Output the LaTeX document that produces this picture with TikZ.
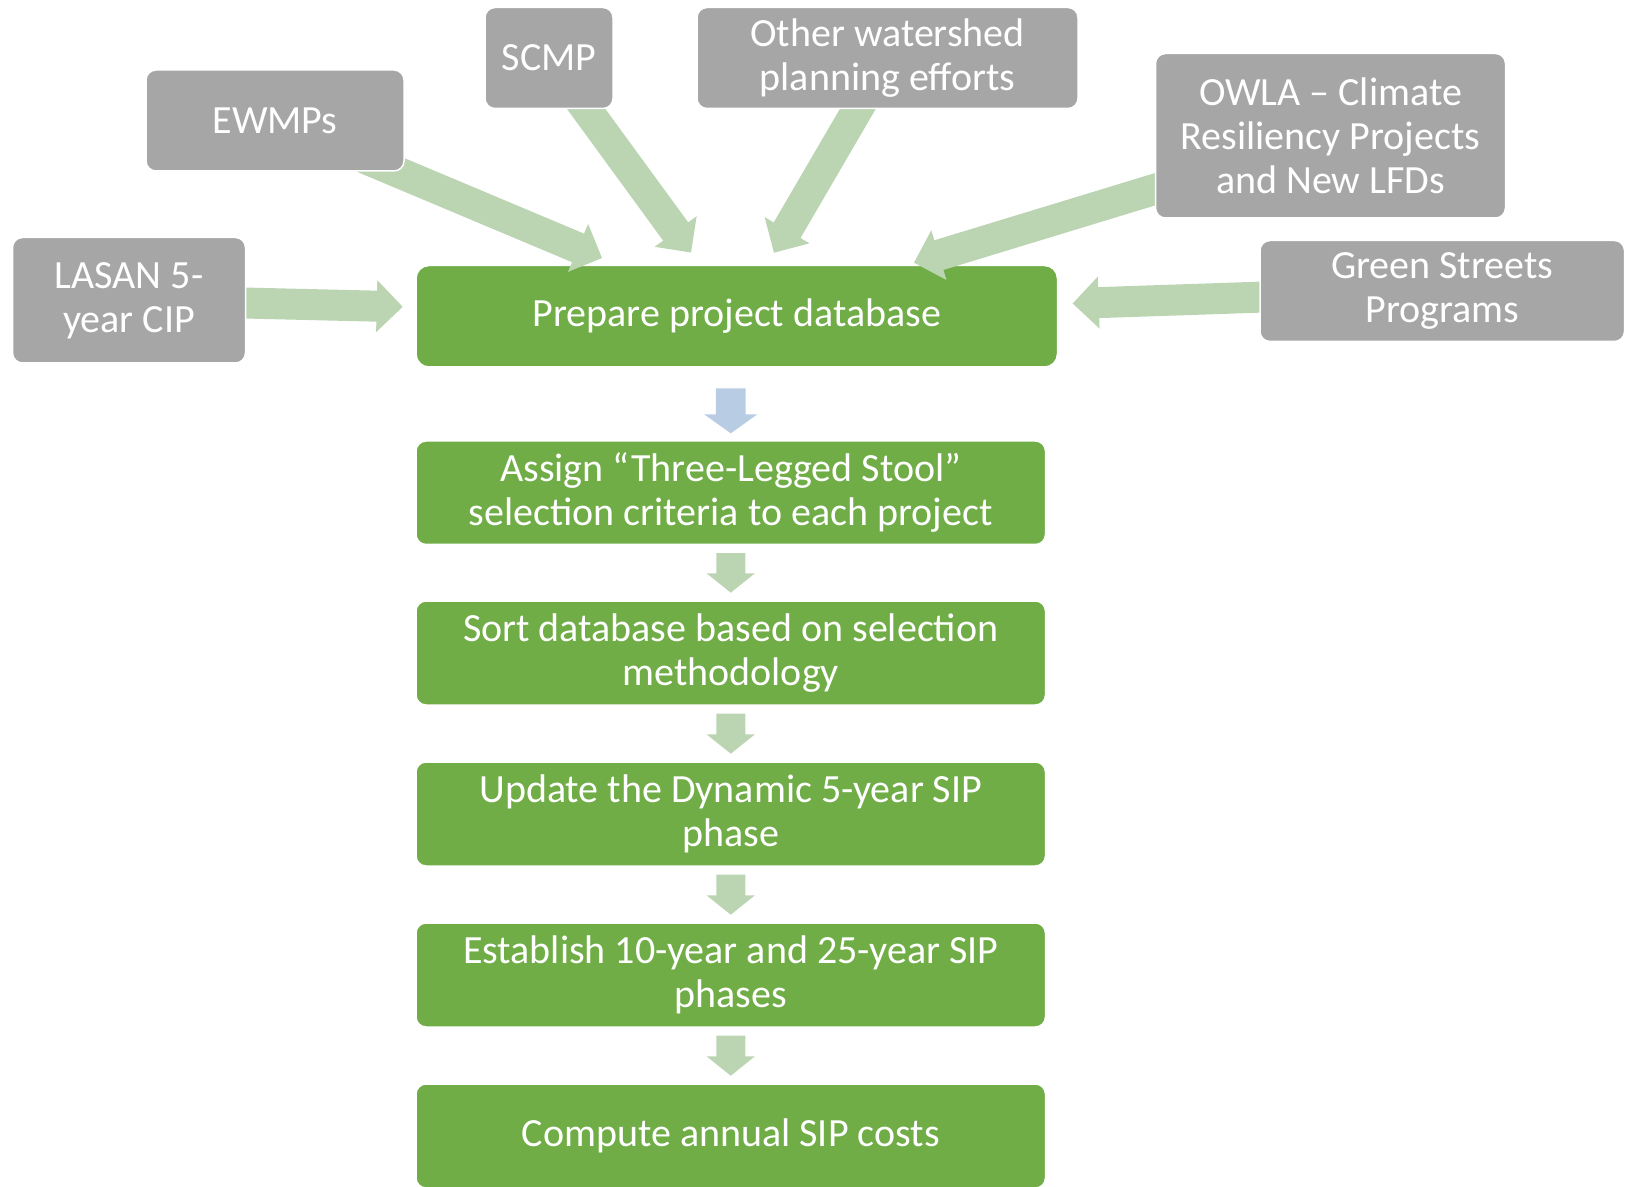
\documentclass[tikz,border=0pt]{standalone}
\usepackage{fontspec}
\setmainfont{Carlito}
\usetikzlibrary{calc}
\pgfdeclarelayer{bg}
\pgfdeclarelayer{mid}
\pgfsetlayers{bg,mid,main}
\definecolor{boxgray}{HTML}{A6A6A6}
\definecolor{stepgreen}{HTML}{70AD47}
\definecolor{arrowgreen}{HTML}{BBD4B2}
\definecolor{arrowblue}{HTML}{B8CCE4}
% #1 style, #2 tail, #3 tip, #4 shaft half width, #5 head half width, #6 head length
\newcommand\myblockarr[6]{%
  \coordinate (tmpB) at ($(#3)!#6!(#2)$);
  \fill[#1] ($(#2)!#4!90:(#3)$) -- ($(tmpB)!#4!90:(#3)$) -- ($(tmpB)!#5!90:(#3)$)
    -- (#3) -- ($(tmpB)!#5!-90:(#3)$) -- ($(tmpB)!#4!-90:(#3)$)
    -- ($(#2)!#4!-90:(#3)$) -- cycle;
}
\begin{document}
\begin{tikzpicture}[x=0.5pt,y=-0.5pt,
  box/.style={rectangle, rounded corners=5pt, inner sep=0pt, outer sep=0pt,
    align=center, text=white, font=\fontsize{20}{22}\selectfont,
    draw=white, line width=0.75pt},
  graybox/.style={box, fill=boxgray},
  stepbox/.style={box, fill=stepgreen, minimum width=314.75pt, minimum height=52pt},
  radarrow/.style={fill=arrowgreen},
  downarrow/.style={fill=arrowgreen},
  firstarrow/.style={fill=arrowblue}]
\useasboundingbox (0,0) rectangle (1634,1187);
\clip (0,0) rectangle (1634,1187);

% central box (below the incoming arrows)
\begin{pgfonlayer}{bg}
\node[box, fill=stepgreen, rounded corners=6.5pt, minimum width=320.75pt, minimum height=50.75pt]
  (prep) at (736.75,316.25) {Prepare project database};
\end{pgfonlayer}

% source boxes
\node[graybox, minimum width=129pt, minimum height=50.5pt] (ewmps) at (275,120.5) {EWMPs};
\node[graybox, minimum width=64pt, minimum height=50.5pt] (scmp) at (549,58) {SCMP};
\node[graybox, minimum width=190.5pt, minimum height=50.5pt] (other) at (887.5,58) {Other watershed\\planning efforts};
\node[graybox, minimum width=175pt, minimum height=82.25pt] (owla) at (1330.5,135.75) {OWLA -- Climate\\Resiliency Projects\\and New LFDs};
\node[graybox, minimum width=182.25pt, minimum height=50.5pt] (green) at (1442.25,291) {Green Streets\\Programs};
\node[graybox, minimum width=116.5pt, minimum height=62.75pt] (lasan) at (129,300.25) {LASAN 5-\\year CIP};

% process steps
\node[stepbox, minimum height=51.75pt] (assign) at (730.75,492.75) {Assign “Three-Legged Stool”\\selection criteria to each project};
\node[stepbox] (sort) at (730.75,653) {Sort database based on selection\\methodology};
\node[stepbox] (update) at (730.75,814) {Update the Dynamic 5-year SIP\\phase};
\node[stepbox] (establish) at (730.75,975) {Establish 10-year and 25-year SIP\\phases};
\node[stepbox] (compute) at (730.75,1136) {Compute annual SIP costs};

% tips of the incoming arrows
\coordinate (t1) at (602,258);
\coordinate (t2) at (691,252.5);
\coordinate (t3) at (774,252.7);
\coordinate (t4) at (914,262.7);
\coordinate (t5) at (1072.7,303.5);
\coordinate (t6) at (402.7,306.8);

\begin{pgfonlayer}{mid}
\myblockarr{radarrow}{ewmps.center}{t1}{7.75pt}{13pt}{13pt}
\myblockarr{radarrow}{scmp.center}{t2}{7.75pt}{13pt}{13pt}
\myblockarr{radarrow}{other.center}{t3}{7.75pt}{13pt}{13pt}
\myblockarr{radarrow}{owla.center}{t4}{7.75pt}{13pt}{13pt}
\myblockarr{radarrow}{green.center}{t5}{7.75pt}{13pt}{13pt}
\myblockarr{radarrow}{lasan.center}{t6}{7.75pt}{13pt}{13pt}
\end{pgfonlayer}

% downward arrows between steps
\coordinate (d0s) at ($(prep.south -| assign.north)+(0,21.3)$);
\coordinate (d0e) at ($(assign.north)+(0,-7.7)$);
\myblockarr{firstarrow}{d0s}{d0e}{7.43pt}{13.3pt}{9.5pt}
\coordinate (d1s) at ($(assign.south)+(0,8.7)$);
\coordinate (d1e) at ($(sort.north)+(0,-8.3)$);
\myblockarr{downarrow}{d1s}{d1e}{7.25pt}{12.1pt}{9.7pt}
\coordinate (d2s) at ($(sort.south)+(0,8.7)$);
\coordinate (d2e) at ($(update.north)+(0,-8.3)$);
\myblockarr{downarrow}{d2s}{d2e}{7.25pt}{12.1pt}{9.7pt}
\coordinate (d3s) at ($(update.south)+(0,8.7)$);
\coordinate (d3e) at ($(establish.north)+(0,-8.3)$);
\myblockarr{downarrow}{d3s}{d3e}{7.25pt}{12.1pt}{9.7pt}
\coordinate (d4s) at ($(establish.south)+(0,8.7)$);
\coordinate (d4e) at ($(compute.north)+(0,-8.3)$);
\myblockarr{downarrow}{d4s}{d4e}{7.25pt}{12.1pt}{9.7pt}
\end{tikzpicture}
\end{document}
